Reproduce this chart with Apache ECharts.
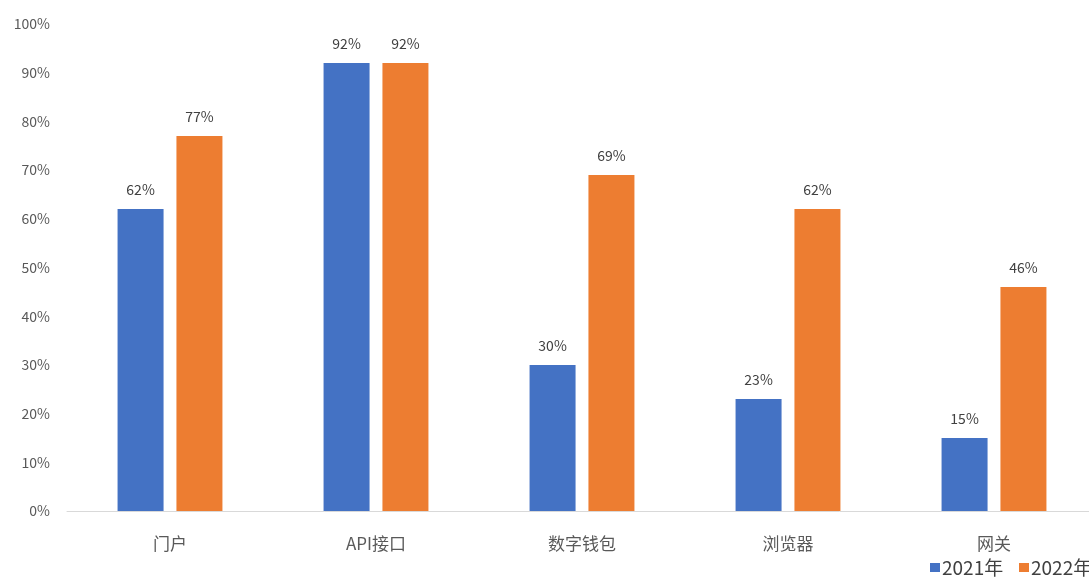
<!DOCTYPE html>
<html>
<head>
<meta charset="utf-8">
<script src="https://cdn.jsdelivr.net/npm/echarts@6/dist/echarts.min.js"></script>
<style>
  html, body { margin: 0; padding: 0; background: #fff; overflow: hidden; }
  #chart { width: 1098px; height: 580px; }
</style>
</head>
<body>
<div id="chart"></div>
<script>
// 类目与数据
const categories = ['门户', 'API接口', '数字钱包', '浏览器', '网关']
const seriesNames = ['2021年', '2022年']
const values2021 = [62, 92, 30, 23, 15]
const values2022 = [77, 92, 69, 62, 46]

const font = '"Noto Sans CJK SC", "Noto Sans", sans-serif'
// 画布比窗口略宽, 右侧被裁掉一点, 和原图一致
const chart = echarts.init(document.getElementById('chart'))

const legendItem = (name, left) => ({
  data: [name],
  left: left,
  top: 558,
  padding: 0,
  itemWidth: 10,
  itemHeight: 9,
  icon: 'rect',
  textStyle: { fontSize: 19, color: '#404040', fontFamily: font, padding: [0, 0, 0, -3] }
})

chart.setOption({
  animation: false,
  color: ['#4472C4', '#ED7D31'],
  textStyle: { fontFamily: font },
  grid: {
    left: 67,
    right: 1,
    top: 24,
    bottom: 69,
    containLabel: false
  },
  // 两个图例分开放, 避免换行
  legend: [legendItem(seriesNames[0], 930), legendItem(seriesNames[1], 1019)],
  xAxis: {
    type: 'category',
    data: categories,
    axisLine: { lineStyle: { color: '#d9d9d9', width: 1 } },
    axisTick: { show: false },
    axisLabel: { fontSize: 17, color: '#595959', margin: 24, fontFamily: font }
  },
  yAxis: {
    type: 'value',
    min: 0,
    max: 100,
    interval: 10,
    axisLine: { show: false },
    axisTick: { show: false },
    splitLine: { show: false },
    axisLabel: { formatter: '{value}%', fontSize: 14, color: '#595959', margin: 17, fontFamily: font }
  },
  series: [{
    name: seriesNames[0],
    type: 'bar',
    data: values2021,
    barWidth: 46,
    barGap: '28%',
    label: { show: true, position: 'top', distance: 12, formatter: '{c}%', fontSize: 14, color: '#404040', fontFamily: font }
  }, {
    name: seriesNames[1],
    type: 'bar',
    data: values2022,
    barWidth: 46,
    barGap: '28%',
    label: { show: true, position: 'top', distance: 12, formatter: '{c}%', fontSize: 14, color: '#404040', fontFamily: font }
  }]
})
</script>
</body>
</html>
